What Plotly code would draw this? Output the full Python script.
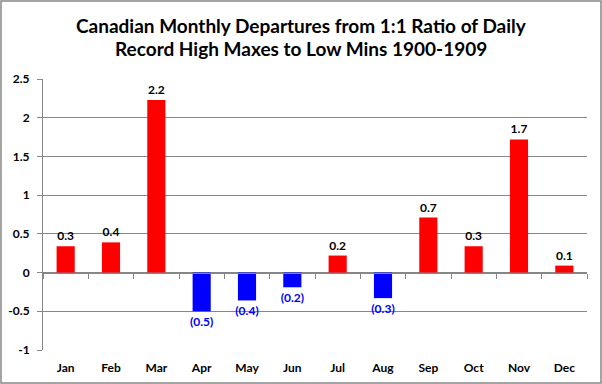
import plotly.graph_objects as go

months = ["Jan", "Feb", "Mar", "Apr", "May", "Jun", "Jul", "Aug", "Sep", "Oct", "Nov", "Dec"]
departures = [0.34, 0.39, 2.23, -0.50, -0.36, -0.19, 0.22, -0.33, 0.71, 0.34, 1.72, 0.09]
y_ticks = [-1, -0.5, 0, 0.5, 1, 1.5, 2, 2.5]
y_tick_labels = ["-1", "-0.5", "0", "0.5", "1", "1.5", "2", "2.5"]
title_lines = ["Canadian Monthly Departures from 1:1 Ratio of Daily",
               "Record High Maxes to Low Mins 1900-1909"]

def fmt(v):
    return f"{v:.1f}" if v >= 0 else f"({abs(v):.1f})"

colors = ["#FF0000" if v >= 0 else "#0000FF" for v in departures]
label_colors = ["#000000" if v >= 0 else "#0000FF" for v in departures]

FONT = "Lato, 'Open Sans', sans-serif"
W, H = 602, 384
L, R, T, B = 43, 15, 79, 34
pw, ph = W - L - R, H - T - B

fig = go.Figure()
fig.add_trace(go.Bar(
    x=months, y=departures, marker=dict(color=colors, line=dict(width=0)),
    width=0.4, text=[fmt(v) for v in departures], textposition="outside",
    constraintext="none",
    textfont=dict(family=FONT, size=12, color=label_colors, weight="bold"), cliponaxis=False,
    hoverinfo="x+y",
))
fig.add_trace(go.Scatter(x=months, y=[0] * 12, xaxis="x2", mode="markers",
                         marker=dict(opacity=0), hoverinfo="skip", showlegend=False))

ymin, ymax = -1, 2.5
fig.update_layout(
    width=W, height=H,
    margin=dict(l=L, r=R, t=T, b=B, autoexpand=False),
    paper_bgcolor="white", plot_bgcolor="white",
    showlegend=False,
    font=dict(family=FONT, size=12, color="#000000"),
    xaxis=dict(type="category", showgrid=False, showline=False, ticks="",
               tickfont=dict(family=FONT, size=12, color="#000000", weight="bold"),
               ticklabelstandoff=9, automargin=False,
               range=[-0.5, 11.5], fixedrange=True),
    xaxis2=dict(type="category", overlaying="x", matches="x", anchor="free",
                position=(0 - ymin) / (ymax - ymin), showline=True, linecolor="#868686",
                linewidth=1, ticks="outside", ticklen=5, tickcolor="#868686",
                tickson="boundaries", showticklabels=False, showgrid=False, automargin=False),
    yaxis=dict(range=[ymin, ymax], tickvals=y_ticks, ticktext=y_tick_labels,
               showgrid=True, gridcolor="#868686", gridwidth=1,
               zeroline=False, showline=True, linecolor="#868686", linewidth=1,
               ticks="outside", ticklen=5, tickcolor="#868686",
               ticklabelstandoff=5, automargin=False,
               tickfont=dict(family=FONT, size=12, color="#000000", weight="bold"),
               fixedrange=True),
    shapes=[dict(type="rect", xref="paper", yref="paper",
                 x0=-(L - 1) / pw, x1=1 + (R - 1) / pw, y0=-(B - 1) / ph, y1=1 + (T - 1) / ph,
                 line=dict(color="#868686", width=1.5), fillcolor="rgba(0,0,0,0)")],
    annotations=[
        dict(text=f"<b>{title_lines[0]}</b>", xref="paper", yref="paper",
             x=(W / 2 - L) / pw, y=1 + (T - 25) / ph, xanchor="center", yanchor="middle",
             showarrow=False, font=dict(family=FONT, size=19, color="#000000")),
        dict(text=f"<b>{title_lines[1]}</b>", xref="paper", yref="paper",
             x=(W / 2 - L) / pw, y=1 + (T - 49) / ph, xanchor="center", yanchor="middle",
             showarrow=False, font=dict(family=FONT, size=19, color="#000000")),
    ],
)

fig.write_html("out.html", config={"displayModeBar": False})
with open("out.html", encoding="utf-8") as f:
    html = f.read()
html = html.replace("<body>", '<body style="margin:0;padding:0">', 1)
with open("out.html", "w", encoding="utf-8") as f:
    f.write(html)
